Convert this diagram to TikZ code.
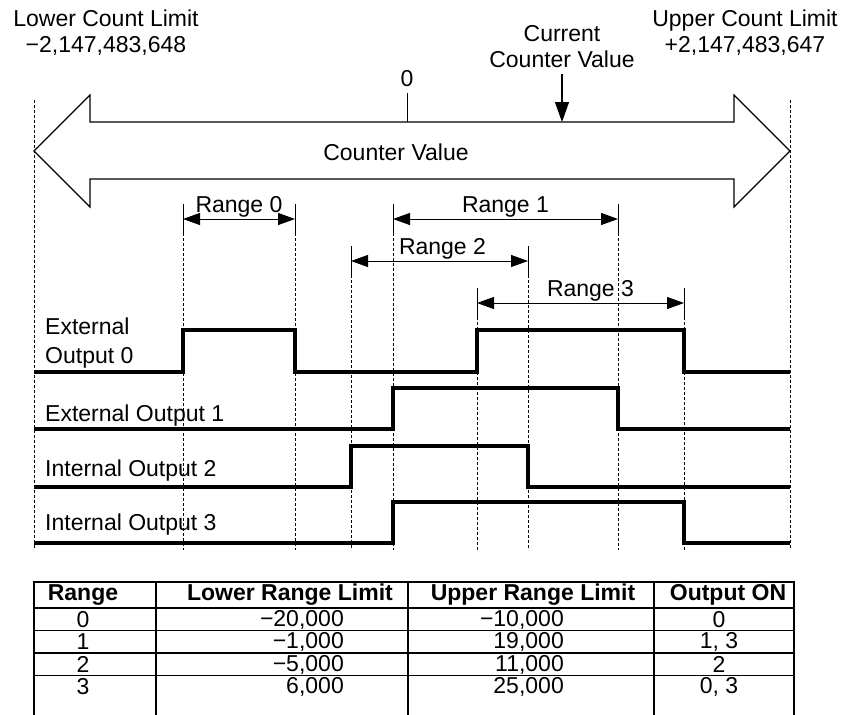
\documentclass[tikz,border=0pt]{standalone}
\usepackage{fontspec}
\setmainfont{Liberation Sans}
\usetikzlibrary{arrows.meta, positioning}

\begin{document}
\begin{tikzpicture}[x=1pt, y=-1pt, font=\fontsize{23}{26}\selectfont,
    guida/.style={dash pattern=on 3pt off 2pt, line width=0.8pt},
    tacca/.style={line width=1pt},
    quota/.style={line width=1pt, {Triangle[length=17pt,width=12pt]}-{Triangle[length=17pt,width=12pt]}},
    segnale/.style={line width=3.2pt, line join=miter},
    griglia/.style={line width=1.2pt},
    lbl/.style={inner sep=0pt},
    testa/.style={inner sep=0pt, font=\fontsize{23}{26}\selectfont\bfseries}]
      \useasboundingbox (0,0) rectangle (844,715);
      % limiti di conteggio
      \node[lbl, align=center] (lcl) at (106,33) {Lower Count Limit\\−2,147,483,648};
      \node[lbl, align=center] (ucl) at (745,33) {Upper Count Limit\\+2,147,483,647};
      % valore corrente
      \node[lbl, align=center] (ccv) at (562,47) {Current\\Counter Value};
      \coordinate (ctop) at (562,74);
      \coordinate (cbase) at (562,122);
      \draw[-{Triangle[length=20pt,width=14pt]}, line width=1.3pt] (ctop) -- (cbase);
      % zero
      \node[lbl] (zero) at (407,79) {0};
      \coordinate (zbase) at (407,122);
      \draw[tacca] ([yshift=-6pt]zero.south) -- (zbase);
      % freccia doppia del contatore
      \draw[line width=1.2pt, line join=miter] (34,151) -- (90,95) -- (90,122) -- (734,122) -- (734,95)
        -- (790,151) -- (734,207) -- (734,179) -- (90,179) -- (90,207) -- cycle;
      \node[lbl] (cval) at (396,152) {Counter Value};
      % guide verticali
      \coordinate (fondo) at (0,550);
      \coordinate (sx) at (34,100);
      \coordinate (dx) at (790,100);
      \draw[guida] (sx) -- (sx |- fondo);
      \draw[guida] (dx) -- (dx |- fondo);
      % estremi dei range
      \coordinate (r0a) at (183,219);
      \coordinate (r0b) at (295,219);
      \coordinate (r1a) at (393,219);
      \coordinate (r1b) at (618,219);
      \coordinate (r2a) at (351,261);
      \coordinate (r2b) at (528,261);
      \coordinate (r3a) at (477,303);
      \coordinate (r3b) at (684,303);
      \foreach \p in {r0a,r0b,r1a,r1b,r2a,r2b,r3a,r3b} {
        \draw[tacca] ([yshift=15pt]\p) -- ([yshift=-14pt]\p);
        \draw[guida] ([yshift=-14pt]\p) -- (\p |- fondo);
      }
      % quote dei range
      \draw[quota] (r0a) -- node[above, inner sep=1pt] (rng0) {Range 0} (r0b);
      \draw[quota] (r1a) -- node[above, inner sep=1pt] (rng1) {Range 1} (r1b);
      \draw[quota] (r2a) -- node[above, inner sep=1pt, xshift=3pt] (rng2) {Range 2} (r2b);
      \draw[quota] (r3a) -- node[above, inner sep=1pt, xshift=10pt] (rng3) {Range 3} (r3b);
      % uscite
      \node[lbl, anchor=south west, align=left, font=\fontsize{23}{29}\selectfont] (eo0) at (45,368) {External\\Output 0};
      \node[lbl, anchor=south west] (eo1) at (45,426) {External Output 1};
      \node[lbl, anchor=south west] (io2) at (45,481) {Internal Output 2};
      \node[lbl, anchor=south west] (io3) at (45,535) {Internal Output 3};
      \draw[segnale] (34,372) -- (183,372) -- (183,330) -- (295,330) -- (295,372) -- (477,372) -- (477,330)
        -- (684,330) -- (684,372) -- (790,372);
      \draw[segnale] (34,429) -- (393,429) -- (393,388) -- (618,388) -- (618,429) -- (790,429);
      \draw[segnale] (34,487) -- (351,487) -- (351,446) -- (528,446) -- (528,487) -- (790,487);
      \draw[segnale] (34,543) -- (393,543) -- (393,502) -- (684,502) -- (684,543) -- (790,543);
      % tabella
      \draw[griglia] (34,715) |- (794,582) -- (794,715);
      \foreach \y in {608,630.5,653,675.5} \draw[griglia] (34,\y) -- (794,\y);
      \foreach \x in {156,408,654} \draw[griglia] (\x,582) -- (\x,715);
      \node[testa] (hrng) at (83,595) {Range};
      \node[testa] (hlow) at (290,595) {Lower Range Limit};
      \node[testa] (hupp) at (533,595) {Upper Range Limit};
      \node[testa] (hout) at (728,595) {Output ON};
      \foreach \r/\lo/\hi/\out [count=\i from 0] in {0/{−20,000}/{−10,000}/0, 1/{−1,000}/{19,000}/{1, 3},
          2/{−5,000}/{11,000}/2, 3/{6,000}/{25,000}/{0, 3}} {
        \node[lbl] (c\i a) at (83,619.5+22.5*\i) {\r};
        \node[lbl, anchor=east] (c\i b) at (344,619.5+22.5*\i) {\lo};
        \node[lbl, anchor=east] (c\i c) at (564,619.5+22.5*\i) {\hi};
        \node[lbl] (c\i d) at (719,619.5+22.5*\i) {\out};
      }
\end{tikzpicture}
\end{document}
